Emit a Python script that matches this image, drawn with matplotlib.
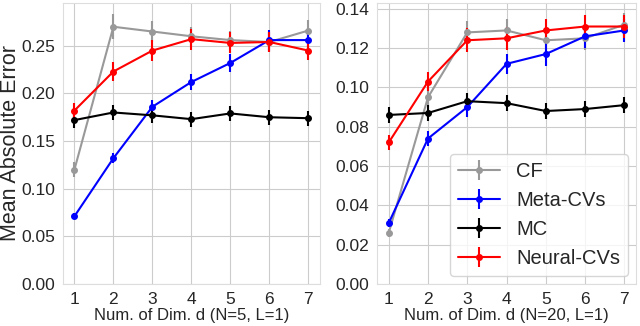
import matplotlib
matplotlib.use('Agg')
import matplotlib.pyplot as plt
import seaborn as sns
import numpy as np

# data
dims = [1, 2, 3, 4, 5, 6, 7]
labels = ['CF', 'Meta-CVs', 'MC', 'Neural-CVs']
colors = ['#999999', 'blue', 'black', 'red']

## left panel (N=5, L=1)
cf_5 = [0.120, 0.270, 0.265, 0.260, 0.256, 0.254, 0.266]
cf_5_err = [0.008, 0.013, 0.011, 0.010, 0.010, 0.010, 0.011]
meta_5 = [0.071, 0.132, 0.186, 0.212, 0.232, 0.256, 0.256]
meta_5_err = [0.003, 0.005, 0.007, 0.008, 0.009, 0.011, 0.010]
mc_5 = [0.172, 0.180, 0.177, 0.173, 0.179, 0.175, 0.174]
mc_5_err = [0.008, 0.008, 0.008, 0.008, 0.008, 0.008, 0.008]
neural_5 = [0.182, 0.223, 0.245, 0.257, 0.253, 0.254, 0.245]
neural_5_err = [0.008, 0.010, 0.011, 0.011, 0.011, 0.011, 0.010]

## right panel (N=20, L=1)
cf_20 = [0.026, 0.095, 0.128, 0.129, 0.124, 0.125, 0.132]
cf_20_err = [0.002, 0.005, 0.006, 0.006, 0.005, 0.006, 0.006]
meta_20 = [0.031, 0.074, 0.090, 0.112, 0.117, 0.126, 0.129]
meta_20_err = [0.002, 0.004, 0.005, 0.005, 0.006, 0.006, 0.006]
mc_20 = [0.086, 0.087, 0.093, 0.092, 0.088, 0.089, 0.091]
mc_20_err = [0.004, 0.004, 0.004, 0.004, 0.004, 0.004, 0.004]
neural_20 = [0.072, 0.103, 0.124, 0.125, 0.129, 0.131, 0.131]
neural_20_err = [0.004, 0.005, 0.006, 0.006, 0.006, 0.006, 0.006]

sns.set_style('whitegrid')
plt.rcParams['font.family'] = ['Liberation Sans', 'DejaVu Sans']

fig = plt.figure(figsize=(6.4, 3.26), dpi=100)
ax1 = fig.add_axes([0.098, 0.129, 0.402, 0.862])
ax2 = fig.add_axes([0.589, 0.129, 0.405, 0.862])

def draw(ax, series, errs):
    for y, e, lab, c in zip(series, errs, labels, colors):
        ax.errorbar(dims, y, yerr=e, color=c, label=lab, marker='o',
                    markersize=4, linewidth=1.5, elinewidth=1.5)
    ax.set_xticks(dims)
    ax.tick_params(labelsize=12.5, pad=2)
    for s in ax.spines.values():
        s.set_color('#dddddd')

draw(ax1, [cf_5, meta_5, mc_5, neural_5], [cf_5_err, meta_5_err, mc_5_err, neural_5_err])
ax1.set_ylim(0, 0.295)
ax1.set_yticks(np.arange(0, 0.26, 0.05))
ax1.set_ylabel('Mean Absolute Error', fontsize=15.5)
ax1.yaxis.set_label_coords(-0.162, 0.5)
ax1.set_xlabel('Num. of Dim. d (N=5, L=1)', fontsize=12, labelpad=1)

draw(ax2, [cf_20, meta_20, mc_20, neural_20], [cf_20_err, meta_20_err, mc_20_err, neural_20_err])
ax2.set_ylim(0, 0.143)
ax2.set_yticks(np.arange(0, 0.141, 0.02))
ax2.set_xlabel('Num. of Dim. d (N=20, L=1)', fontsize=12, labelpad=1)
ax2.legend(loc='lower right', fontsize=14.5, frameon=True, handlelength=2.1,
           borderaxespad=0.4)

plt.savefig('out.png', dpi=100)
